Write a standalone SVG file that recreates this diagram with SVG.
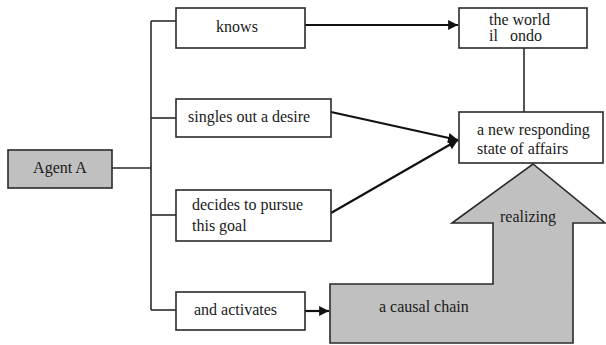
<svg xmlns="http://www.w3.org/2000/svg" width="606" height="345" viewBox="0 0 606 345">
<defs>
<style>
.box{fill:#fff;stroke:#2a2a2a;stroke-width:1.6}
.gray{fill:#c0c0c0;stroke:#2a2a2a;stroke-width:1.6}
text{font-family:'Liberation Serif','DejaVu Serif','Times New Roman',serif;font-size:16px;fill:#1a1a1a}
.ln{fill:none;stroke:#2a2a2a;stroke-width:1.6}
.ar{fill:none;stroke:#111;stroke-width:2.2}
</style>
<marker id="ah" viewBox="0 0 10 10" refX="10" refY="5" markerWidth="4.5" markerHeight="4.5" orient="auto" markerUnits="strokeWidth">
<path d="M0,0 L10,5 L0,10 z" fill="#111"/>
</marker>
</defs>
<rect width="606" height="345" fill="#fff"/>
<g id="connectors">
<line class="ln" x1="112" y1="168" x2="151" y2="168"/>
<line class="ln" x1="151" y1="21" x2="151" y2="310"/>
<line class="ln" x1="151" y1="21" x2="176" y2="21"/>
<line class="ln" x1="151" y1="118" x2="176" y2="118"/>
<line class="ln" x1="151" y1="215" x2="176" y2="215"/>
<line class="ln" x1="151" y1="310" x2="176" y2="310"/>
<line class="ar" x1="305" y1="25" x2="458" y2="25" marker-end="url(#ah)"/>
<line class="ar" x1="331" y1="112" x2="458" y2="140" marker-end="url(#ah)"/>
<line class="ar" x1="331" y1="213" x2="458" y2="140" marker-end="url(#ah)"/>
<line class="ar" x1="305" y1="311" x2="329" y2="311" marker-end="url(#ah)"/>
<line class="ln" x1="524" y1="48" x2="524" y2="112"/>
</g>
<g id="agent">
<rect class="gray" x="8" y="150" width="104" height="38"/>
<text font-family="Liberation Serif, serif" x="60" y="173" text-anchor="middle">Agent A</text>
</g>
<g id="knows">
<rect class="box" x="176" y="8" width="129" height="40"/>
<text font-family="Liberation Serif, serif" x="237" y="32" text-anchor="middle">knows</text>
</g>
<g id="singles">
<rect class="box" x="176" y="99" width="155" height="38"/>
<text font-family="Liberation Serif, serif" x="188" y="122">singles out a desire</text>
</g>
<g id="decides">
<rect class="box" x="176" y="190" width="155" height="51"/>
<text font-family="Liberation Serif, serif" x="192" y="210">decides to pursue</text>
<text font-family="Liberation Serif, serif" x="192" y="231">this goal</text>
</g>
<g id="activates">
<rect class="box" x="176" y="292" width="129" height="38"/>
<text font-family="Liberation Serif, serif" x="194" y="315">and activates</text>
</g>
<g id="world">
<rect class="box" x="459" y="8" width="128" height="40"/>
<text font-family="Liberation Serif, serif" x="489" y="25" font-size="15">the world</text>
<text font-family="Liberation Serif, serif" x="489" y="41" font-size="15" style="white-space:pre">il   ondo</text>
</g>
<g id="newstate">
<rect class="box" x="459" y="112" width="144" height="51"/>
<text font-family="Liberation Serif, serif" x="477" y="135">a new responding</text>
<text font-family="Liberation Serif, serif" x="477" y="154">state of affairs</text>
</g>
<g id="causal">
<polygon class="gray" points="330,284 493,284 493,223 452,223 533,164 605,223 573,223 573,343 330,343"/>
<text font-family="Liberation Serif, serif" x="379" y="312">a causal chain</text>
<text font-family="Liberation Serif, serif" x="500" y="222">realizing</text>
</g>
</svg>
